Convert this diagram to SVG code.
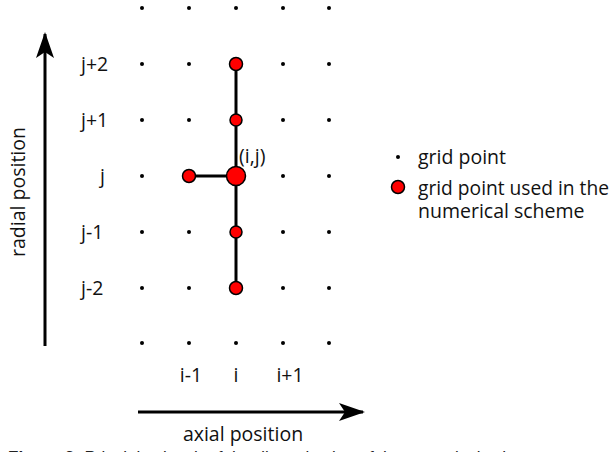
<svg xmlns="http://www.w3.org/2000/svg" width="613" height="452" viewBox="0 0 613 452">
<style>
.lbl{font-family:"Open Sans","Liberation Sans",sans-serif;font-size:19.5px;fill:#111}
.big{font-family:"Open Sans","Liberation Sans",sans-serif;font-size:19.5px;fill:#111}
.dot{fill:#000}
.red{fill:#ff0000;stroke:#000;stroke-width:1.5}
.conn{stroke:#000;stroke-width:3;fill:none}
.axis{stroke:#000;stroke-width:3;fill:none}
.cap{font-family:"Liberation Sans",Arial,sans-serif;font-size:17px;fill:#222}
</style>
<defs>
<marker id="ah" viewBox="0 0 26 18" refX="24" refY="9" markerWidth="26" markerHeight="18" markerUnits="userSpaceOnUse" orient="auto">
<path d="M0,0 L26,9 L0,18 L6,9 Z" fill="#000"/>
</marker>
</defs>
<rect width="613" height="452" fill="#fff"/>
<g id="grid">
<g class="dot">
<circle cx="142" cy="8" r="2"/><circle cx="189" cy="8" r="2"/><circle cx="236" cy="8" r="2"/><circle cx="283" cy="8" r="2"/><circle cx="329" cy="8" r="2"/>
<circle cx="142" cy="64" r="2"/><circle cx="189" cy="64" r="2"/><circle cx="283" cy="64" r="2"/><circle cx="329" cy="64" r="2"/>
<circle cx="142" cy="120" r="2"/><circle cx="189" cy="120" r="2"/><circle cx="283" cy="120" r="2"/><circle cx="329" cy="120" r="2"/>
<circle cx="142" cy="176" r="2"/><circle cx="283" cy="176" r="2"/><circle cx="329" cy="176" r="2"/>
<circle cx="142" cy="232" r="2"/><circle cx="189" cy="232" r="2"/><circle cx="283" cy="232" r="2"/><circle cx="329" cy="232" r="2"/>
<circle cx="142" cy="288" r="2"/><circle cx="189" cy="288" r="2"/><circle cx="283" cy="288" r="2"/><circle cx="329" cy="288" r="2"/>
<circle cx="142" cy="343" r="2"/><circle cx="189" cy="343" r="2"/><circle cx="236" cy="343" r="2"/><circle cx="283" cy="343" r="2"/><circle cx="329" cy="343" r="2"/>
</g>
</g>
<g id="connectors">
<line class="conn" x1="236" y1="64" x2="236" y2="288"/>
<line class="conn" x1="189" y1="176" x2="236" y2="176"/>
</g>
<g id="node-i-jp2"><circle class="red" cx="236" cy="64" r="6.5"/></g>
<g id="node-i-jp1"><circle class="red" cx="236" cy="120" r="6"/></g>
<g id="node-im1-j"><circle class="red" cx="189" cy="176" r="6.5"/></g>
<g id="node-i-j"><circle class="red" cx="236" cy="176" r="9.5"/><text class="lbl" x="239" y="163">(i,j)</text></g>
<g id="node-i-jm1"><circle class="red" cx="236" cy="232" r="6"/></g>
<g id="node-i-jm2"><circle class="red" cx="236" cy="288" r="6.5"/></g>
<g id="row-labels" class="lbl">
<text x="81" y="71">j+2</text>
<text x="81" y="127">j+1</text>
<text x="100" y="183">j</text>
<text x="81" y="239">j-1</text>
<text x="81" y="295">j-2</text>
</g>
<g id="col-labels" class="lbl" text-anchor="middle">
<text x="191" y="382">i-1</text>
<text x="236" y="382">i</text>
<text x="290" y="382">i+1</text>
</g>
<g id="radial-axis">
<line class="axis" x1="45" y1="346" x2="45" y2="34" marker-end="url(#ah)"/>
<text class="big" transform="translate(25,192) rotate(-90)" text-anchor="middle" font-size="20">radial position</text>
</g>
<g id="axial-axis">
<line class="axis" x1="138" y1="412" x2="363" y2="412" marker-end="url(#ah)"/>
<text class="big" x="243" y="441" text-anchor="middle" font-size="21">axial position</text>
</g>
<g id="legend">
<circle class="dot" cx="398" cy="157" r="2"/>
<text class="big" x="418" y="164">grid point</text>
<circle class="red" cx="398" cy="187" r="6.5"/>
<text class="big" x="418" y="195" textLength="191" lengthAdjust="spacingAndGlyphs">grid point used in the</text>
<text class="big" x="418" y="218">numerical scheme</text>
</g>
<text class="cap" x="8" y="463"><tspan font-weight="bold">Figure 3:</tspan> Principle sketch of the discretization of the numerical scheme</text>
</svg>
